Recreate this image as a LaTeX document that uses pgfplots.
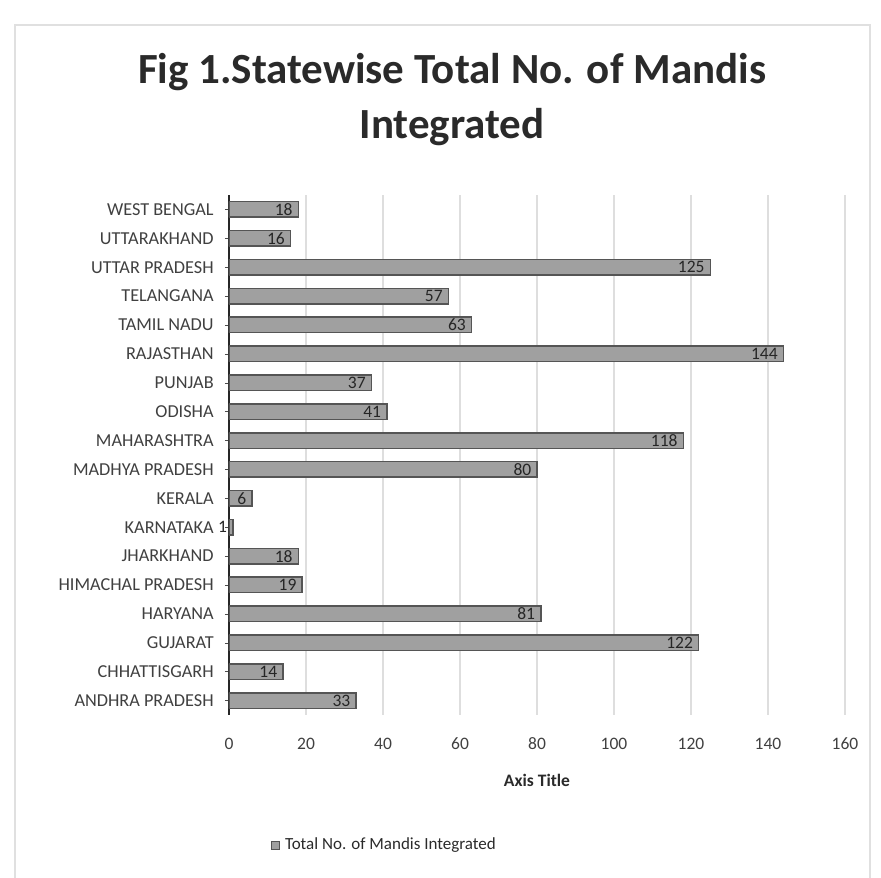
\documentclass[border=0pt]{standalone}
\usepackage{pgfplots}
\pgfplotsset{compat=1.18}
\usepackage{fontspec}
\setmainfont{Carlito}
\definecolor{barfill}{HTML}{A0A0A0}
\definecolor{baredge}{HTML}{555555}
\definecolor{txt}{HTML}{2A2A2A}
\begin{document}
\begin{tikzpicture}
\path[use as bounding box] (-229*0.4pt,-163*0.4pt) rectangle (652*0.4pt,715*0.4pt);
\draw[black!12, line width=1pt] (-214*0.4pt,-170*0.4pt) -- (-214*0.4pt,690*0.4pt) -- (641*0.4pt,690*0.4pt) -- (641*0.4pt,-170*0.4pt);
\node[font=\bfseries\fontsize{17.2}{22}\selectfont, text=txt, align=center, anchor=center] at (223*0.4pt,615*0.4pt) {Fig 1.Statewise Total No. of Mandis\\Integrated};
\begin{axis}[
  at={(0,0)}, anchor=south west,
  scale only axis, width=246.4pt, height=208pt,
  xbar, bar width=6.2pt,
  xmin=0, xmax=160, xtick={0,20,...,160},
  ymin=-0.5, ymax=17.5, ytick={0,...,17},
  yticklabels={ANDHRA PRADESH, CHHATTISGARH, GUJARAT, HARYANA, HIMACHAL PRADESH, JHARKHAND, KARNATAKA, KERALA, MADHYA PRADESH, MAHARASHTRA, ODISHA, PUNJAB, RAJASTHAN, TAMIL NADU, TELANGANA, UTTAR PRADESH, UTTARAKHAND, WEST BENGAL},
  /pgf/number format/assume math mode=true,
  axis lines*=left,
  x axis line style={draw=none},
  y axis line style={black!85, line width=1.1pt},
  xmajorgrids, grid style={black!13, line width=0.5pt},
  xtick style={draw=none},
  ytick style={black!70},
  tick align=outside, major tick length=1.6pt,
  ticklabel style={text=black!75},
  xticklabel style={font=\fontsize{7}{8}\selectfont, yshift=-4pt},
  yticklabel style={font=\fontsize{7.3}{8}\selectfont, xshift=-1pt},
  xlabel={Axis Title},
  xlabel style={font=\bfseries\fontsize{7}{8}\selectfont, text=txt, at={(axis description cs:0.5,-0.125)}, anchor=center},
  nodes near coords,
  nodes near coords align={anchor=east},
  every node near coord/.append style={font=\fontsize{7}{8}\selectfont, text=black!85, inner sep=1pt, xshift=-1pt},
  legend style={at={(0.255,-0.25)}, anchor=center, draw=none, fill=none, font=\fontsize{6.8}{8}\selectfont, text=txt},
  legend image code/.code={\fill[barfill, draw=baredge, line width=0.3pt] (0pt,-1.6pt) rectangle (3.2pt,1.6pt);},
]
\addplot[fill=barfill, draw=baredge, line width=0.6pt] coordinates {
(33,0) (14,1) (122,2) (81,3) (19,4) (18,5) (1,6) (6,7) (80,8) (118,9) (41,10) (37,11) (144,12) (63,13) (57,14) (125,15) (16,16) (18,17)
};
\addlegendentry{Total No. of Mandis Integrated}
\end{axis}
\end{tikzpicture}
\end{document}
